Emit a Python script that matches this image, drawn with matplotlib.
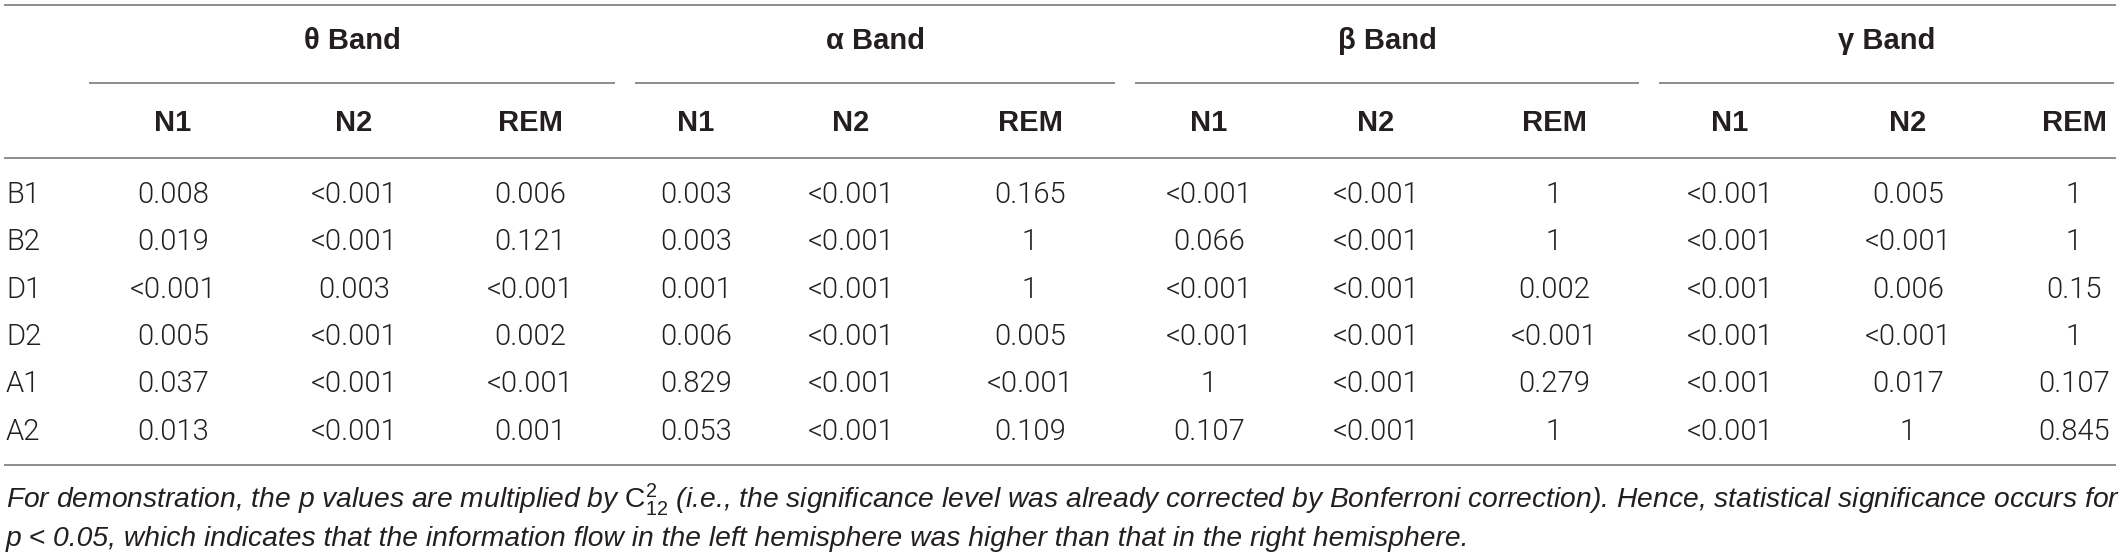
import matplotlib.pyplot as plt
from matplotlib import font_manager as fm

plt.rcParams['font.family'] = ['Liberation Sans', 'DejaVu Sans']
plt.rcParams['mathtext.fontset'] = 'custom'
plt.rcParams['mathtext.rm'] = 'Liberation Sans'
plt.rcParams['mathtext.it'] = 'Liberation Sans:italic'

# table content
rows = ['B1', 'B2', 'D1', 'D2', 'A1', 'A2']
bands = ['\u03b8 Band', '\u03b1 Band', '\u03b2 Band', '\u03b3 Band']
stages = ['N1', 'N2', 'REM']

theta_N1 = ['0.008', '0.019', '<0.001', '0.005', '0.037', '0.013']
theta_N2 = ['<0.001', '<0.001', '0.003', '<0.001', '<0.001', '<0.001']
theta_REM = ['0.006', '0.121', '<0.001', '0.002', '<0.001', '0.001']
alpha_N1 = ['0.003', '0.003', '0.001', '0.006', '0.829', '0.053']
alpha_N2 = ['<0.001', '<0.001', '<0.001', '<0.001', '<0.001', '<0.001']
alpha_REM = ['0.165', '1', '1', '0.005', '<0.001', '0.109']
beta_N1 = ['<0.001', '0.066', '<0.001', '<0.001', '1', '0.107']
beta_N2 = ['<0.001', '<0.001', '<0.001', '<0.001', '<0.001', '<0.001']
beta_REM = ['1', '1', '0.002', '<0.001', '0.279', '1']
gamma_N1 = ['<0.001', '<0.001', '<0.001', '<0.001', '<0.001', '<0.001']
gamma_N2 = ['0.005', '<0.001', '0.006', '<0.001', '0.017', '1']
gamma_REM = ['1', '1', '0.15', '1', '0.107', '0.845']

columns = [theta_N1, theta_N2, theta_REM, alpha_N1, alpha_N2, alpha_REM,
           beta_N1, beta_N2, beta_REM, gamma_N1, gamma_N2, gamma_REM]

note1 = ("For demonstration, the p values are multiplied by $\\mathrm{C}_{12}^{2}$ "
         "(i.e., the significance level was already corrected by Bonferroni correction). "
         "Hence, statistical significance occurs for")
note2 = ("p < 0.05, which indicates that the information flow in the left hemisphere "
         "was higher than that in the right hemisphere.")

# thin body font if one is installed
body_font = {'family': ['Liberation Sans', 'DejaVu Sans'], 'weight': 'normal'}
for fam in ['Roboto', 'Lato', 'Open Sans', 'Inter', 'Noto Sans']:
    ws = [f.weight for f in fm.fontManager.ttflist
          if f.name == fam and f.style == 'normal']
    if any(w in (300, 'light') for w in ws):
        body_font = {'family': [fam, 'DejaVu Sans'], 'weight': 300}
        break

# layout (pixels)
W, H = 2120, 558
col_x = [173, 354, 530, 696, 851, 1030, 1209, 1376, 1554, 1730, 1908, 2074]
group_span = [(90, 614), (636, 1114), (1136, 1638), (1660, 2113)]
row_y0, row_dy = 195, 47.3
line_col = '#8c8c8c'
txt_col = '#231f20'
fs = 21

fig = plt.figure(figsize=(W / 100, H / 100), dpi=100)
ax = fig.add_axes([0, 0, 1, 1])
ax.set_xlim(0, W)
ax.set_ylim(H, 0)
ax.axis('off')

# rules
for y in [5, 158, 465]:
    ax.plot([5, 2115], [y, y], color=line_col, lw=1.4)
for (a, b), name in zip(group_span, bands):
    ax.plot([a, b], [83, 83], color=line_col, lw=1.4)
    ax.text((a + b) / 2, 41, name, ha='center', va='center', fontsize=fs,
            fontweight='bold', color=txt_col)

for i, x in enumerate(col_x):
    ax.text(x, 123, stages[i % 3], ha='center', va='center', fontsize=fs,
            fontweight='bold', color=txt_col)

for r, lab in enumerate(rows):
    y = row_y0 + r * row_dy
    ax.text(6, y, lab, ha='left', va='center', fontsize=fs, color=txt_col,
            fontfamily=body_font['family'], fontweight=body_font['weight'])
    for x, col in zip(col_x, columns):
        ax.text(x, y, col[r], ha='center', va='center', fontsize=fs, color=txt_col,
                fontfamily=body_font['family'], fontweight=body_font['weight'])

ax.text(6, 500, note1, ha='left', va='center', fontsize=20.3, style='italic', color=txt_col)
ax.text(6, 539, note2, ha='left', va='center', fontsize=20.3, style='italic', color=txt_col)

fig.savefig('out.png', dpi=100)
